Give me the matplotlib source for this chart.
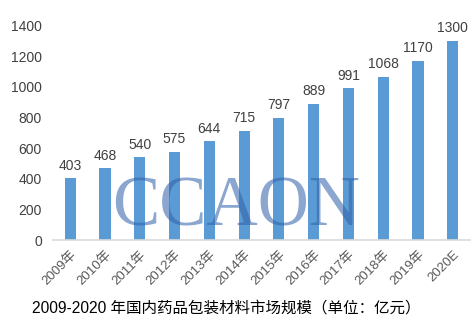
import matplotlib
matplotlib.use("Agg")
from matplotlib import pyplot as plt
import numpy as np

plt.rcParams['font.family'] = ['Liberation Sans', 'Noto Sans CJK SC']

years = ["2009年", "2010年", "2011年", "2012年", "2013年", "2014年",
         "2015年", "2016年", "2017年", "2018年", "2019年", "2020E"]
market = [403, 468, 540, 575, 644, 715, 797, 889, 991, 1068, 1170, 1300]
yticks = [0, 200, 400, 600, 800, 1000, 1200, 1400]
title = "2009-2020 年国内药品包装材料市场规模（单位：亿元）"

fig = plt.figure(figsize=(4.72, 3.32), dpi=100)
ax = fig.add_axes([0.112, 0.277, 0.884, 0.6455])

x = np.arange(len(years))
ax.bar(x, market, width=0.32, color="#5b9bd5", zorder=2)
for i, v in enumerate(market):
    ax.annotate(str(v), (i, v), xytext=(0, 4), textcoords="offset points",
                ha="center", va="bottom", fontsize=10, color="#404040")

ax.set_xlim(-0.5, len(years) - 0.5)
ax.set_ylim(0, 1400)
ax.set_yticks(yticks)
ax.set_yticklabels([str(t) for t in yticks], fontsize=10, color="#404040")
ax.set_xticks(x)
ax.set_xticklabels(years, rotation=45, ha="right", rotation_mode="anchor",
                   fontsize=9.5, color="#595959")
ax.tick_params(axis="y", length=0, pad=8)
ax.tick_params(axis="x", length=0, pad=6)

for side in ["top", "right", "left"]:
    ax.spines[side].set_visible(False)
ax.spines["bottom"].set_color("#d9d9d9")
ax.spines["bottom"].set_linewidth(1.2)

# watermark
fig.text(0.501, 0.322, "CCAON", fontsize=51, family="Liberation Serif",
         color="#2e5fa8", alpha=0.55, ha="center", va="baseline", zorder=5)

fig.text(0.479, 0.072, title, fontsize=11.2, color="black", ha="center", va="center")

fig.savefig("out.png", dpi=100)
